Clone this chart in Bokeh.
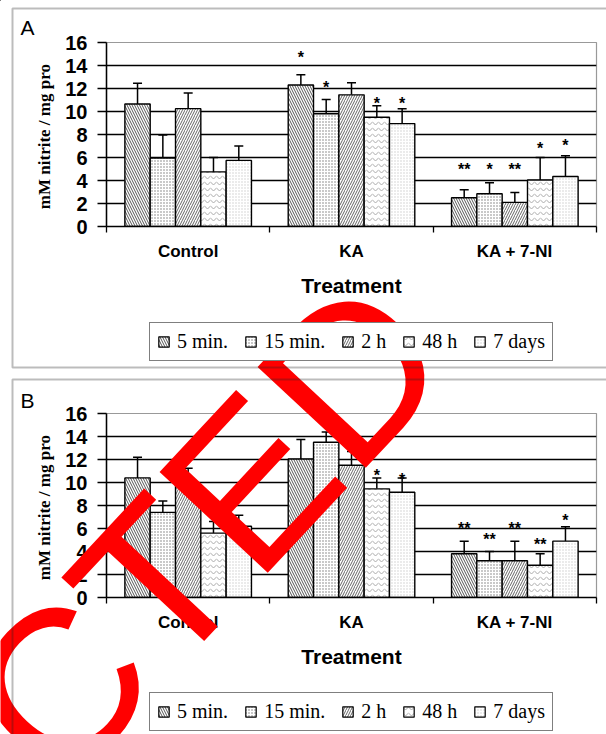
from bokeh.plotting import figure
from bokeh.models import (Range1d, FixedTicker, ColumnDataSource, Whisker, TeeHead,
                          Legend, LegendItem, BoxAnnotation)
from bokeh.layouts import column
from bokeh.embed import file_html
from bokeh.resources import INLINE
from bokeh.core.properties import value

# ---------------- data ----------------
treatments = ["Control", "KA", "KA + 7-NI"]
series = ["5 min.", "15 min.", "2 h", "48 h", "7 days"]
y_ticks = [0, 2, 4, 6, 8, 10, 12, 14, 16]
y_label = "mM nitrite /  mg pro"
x_label = "Treatment"
panel_letters = ["A", "B"]
watermark = "CTED"

# Panel A : bar height, top of error bar, significance marks and their heights
a_5min = [10.65, 12.3, 2.5]
a_5min_hi = [12.45, 13.2, 3.2]
a_5min_star = ["", "*", "**"]
a_5min_star_y = [0, 15.2, 5.5]
a_15min = [5.95, 9.8, 2.85]
a_15min_hi = [7.95, 11.05, 3.8]
a_15min_star = ["", "*", "*"]
a_15min_star_y = [0, 12.6, 5.5]
a_2h = [10.25, 11.45, 2.1]
a_2h_hi = [11.6, 12.5, 2.95]
a_2h_star = ["", "", "**"]
a_2h_star_y = [0, 0, 5.5]
a_48h = [4.75, 9.5, 4.05]
a_48h_hi = [6.0, 10.5, 6.0]
a_48h_star = ["", "*", "*"]
a_48h_star_y = [0, 11.25, 7.3]
a_7d = [5.75, 8.95, 4.35]
a_7d_hi = [7.0, 10.25, 6.15]
a_7d_star = ["", "*", "*"]
a_7d_star_y = [0, 11.25, 7.6]

# Panel B
b_5min = [10.4, 12.05, 3.8]
b_5min_hi = [12.2, 13.75, 4.9]
b_5min_star = ["", "", "**"]
b_5min_star_y = [0, 0, 6.5]
b_15min = [7.4, 13.5, 3.2]
b_15min_hi = [8.4, 14.4, 4.0]
b_15min_star = ["", "*", "**"]
b_15min_star_y = [0, 15.45, 5.55]
b_2h = [9.85, 11.5, 3.2]
b_2h_hi = [11.25, 12.7, 4.9]
b_2h_star = ["", "*", "**"]
b_2h_star_y = [0, 14.1, 6.5]
b_48h = [5.6, 9.45, 2.8]
b_48h_hi = [6.6, 10.4, 3.8]
b_48h_star = ["", "*", "**"]
b_48h_star_y = [0, 11.1, 5.15]
b_7d = [6.2, 9.15, 4.9]
b_7d_hi = [7.15, 10.4, 6.15]
b_7d_star = ["", "*", "*"]
b_7d_star_y = [0, 10.8, 7.25]

panel_a = dict(
    means=[a_5min, a_15min, a_2h, a_48h, a_7d],
    highs=[a_5min_hi, a_15min_hi, a_2h_hi, a_48h_hi, a_7d_hi],
    stars=[a_5min_star, a_15min_star, a_2h_star, a_48h_star, a_7d_star],
    star_ys=[a_5min_star_y, a_15min_star_y, a_2h_star_y, a_48h_star_y, a_7d_star_y],
)
panel_b = dict(
    means=[b_5min, b_15min, b_2h, b_48h, b_7d],
    highs=[b_5min_hi, b_15min_hi, b_2h_hi, b_48h_hi, b_7d_hi],
    stars=[b_5min_star, b_15min_star, b_2h_star, b_48h_star, b_7d_star],
    star_ys=[b_5min_star_y, b_15min_star_y, b_2h_star_y, b_48h_star_y, b_7d_star_y],
)

# ---------------- styles / layout ----------------
HATCH = [
    dict(hatch_pattern="left_diagonal_line", hatch_color="#555555", hatch_scale=5, hatch_weight=1),
    dict(hatch_pattern="dot", hatch_color="#777777", hatch_scale=3, hatch_weight=1),
    dict(hatch_pattern="right_diagonal_line", hatch_color="#666666", hatch_scale=5, hatch_weight=1),
    dict(hatch_pattern="horizontal_wave", hatch_color="#aaaaaa", hatch_scale=6, hatch_weight=1),
    dict(hatch_pattern="dot", hatch_color="#cccccc", hatch_scale=3, hatch_weight=1),
]
W, H = 606, 734
HA, HB = 371, 363
FL, FR, FT, FB = 106, 596, 42, 226
BAR_W = 0.155
SANS = "Liberation Sans"
SERIF = "Liberation Serif"


def make_panel(data, height):
    n = len(series)
    p = figure(width=W, height=height, output_backend="svg", toolbar_location=None,
               x_range=Range1d(-0.5, len(treatments) - 0.5),
               y_range=Range1d(y_ticks[0], y_ticks[-1]),
               min_border_left=FL, min_border_right=W - FR,
               min_border_top=FT, min_border_bottom=height - FB)
    p.background_fill_color = "white"
    p.border_fill_color = "white"
    p.outline_line_color = "#999999"
    p.outline_line_width = 1.2

    p.xgrid.visible = False
    p.ygrid.ticker = FixedTicker(ticks=y_ticks[1:-1])
    p.ygrid.grid_line_color = "black"
    p.ygrid.grid_line_width = 1.3

    ya = p.yaxis[0]
    ya.ticker = FixedTicker(ticks=y_ticks, minor_ticks=[])
    ya.axis_line_color = "black"
    ya.axis_line_width = 1.5
    ya.major_tick_out = 9
    ya.major_tick_in = 0
    ya.major_tick_line_color = "black"
    ya.major_tick_line_width = 1.3
    ya.major_label_standoff = 10
    ya.major_label_text_font = SANS
    ya.major_label_text_font_style = "bold"
    ya.major_label_text_font_size = "20px"
    ya.major_label_text_color = "black"
    ya.axis_label = y_label
    ya.axis_label_text_font = SERIF
    ya.axis_label_text_font_style = "bold"
    ya.axis_label_text_font_size = "17px"
    ya.axis_label_text_color = "black"
    ya.axis_label_standoff = 8

    xa = p.xaxis[0]
    centres = list(range(len(treatments)))
    bounds = [c - 0.5 for c in centres] + [centres[-1] + 0.5]
    xa.ticker = FixedTicker(ticks=centres, minor_ticks=bounds)
    xa.major_label_overrides = {c: t for c, t in zip(centres, treatments)}
    xa.axis_line_color = "black"
    xa.axis_line_width = 1.5
    xa.major_tick_out = 0
    xa.major_tick_in = 0
    xa.minor_tick_out = 6
    xa.minor_tick_in = 0
    xa.minor_tick_line_color = "black"
    xa.minor_tick_line_width = 1.3
    xa.major_label_standoff = 9
    xa.major_label_text_font = SANS
    xa.major_label_text_font_style = "bold"
    xa.major_label_text_font_size = "17px"
    xa.major_label_text_color = "black"
    xa.axis_label = x_label
    xa.axis_label_text_font = SANS
    xa.axis_label_text_font_style = "bold"
    xa.axis_label_text_font_size = "21px"
    xa.axis_label_text_color = "black"
    xa.axis_label_standoff = 10

    for j in range(n):
        xs = [c + (j - (n - 1) / 2) * BAR_W for c in centres]
        src = ColumnDataSource(dict(x=xs, top=data["means"][j], hi=data["highs"][j],
                                    star=data["stars"][j], sy=data["star_ys"][j]))
        p.vbar(x="x", top="top", bottom=0, width=BAR_W, source=src,
               fill_color="white", line_color="black", line_width=1.4, **HATCH[j])
        p.add_layout(Whisker(source=src, base="x", lower="top", upper="hi", dimension="height",
                             line_color="black", line_width=1.5,
                             upper_head=TeeHead(size=9, line_color="black", line_width=1.5),
                             lower_head=None))
        p.text(x="x", y="sy", text="star", source=src, text_font=value(SANS),
               text_font_style="bold", text_font_size="16px", text_color="black",
               text_align="center", text_baseline="alphabetic", y_offset=6)
    return p


pa = make_panel(panel_a, HA)
pb = make_panel(panel_b, HB)

# ---- transparent overlay (page pixels) for frames, letters, legends and the red stamp ----
ov = figure(width=W, height=H, output_backend="svg", toolbar_location=None,
            x_range=Range1d(0, W), y_range=Range1d(H, 0),
            x_axis_location=None, y_axis_location=None,
            min_border=0, frame_align=False, margin=(-H, 0, 0, 0))
ov.grid.visible = False
ov.background_fill_color = None
ov.border_fill_color = None
ov.outline_line_color = None

# panel frames
ov.add_layout(BoxAnnotation(left=12, right=W + 20, top=8, bottom=367, fill_color=None,
                            fill_alpha=0, line_color="#222222", line_width=2))
ov.add_layout(BoxAnnotation(left=12, right=W + 20, top=379, bottom=H + 20, fill_color=None,
                            fill_alpha=0, line_color="#222222", line_width=2))
# panel letters
ov.text(x=[20, 20], y=[15, 388], text=panel_letters, text_font=value(SANS),
        text_font_size="21px", text_color="black", text_baseline="top", text_align="left")

# legends: proxy glyphs (placed outside the view) carry the same styles as the bars
proxies = []
for j in range(len(series)):
    proxies.append(ov.vbar(x=[-50], top=[0], width=1, fill_color="white", line_color="black",
                           line_width=1.2, **HATCH[j]))
for loc in [(149, H - 361), (149, H - 731)]:
    lg = Legend(items=[LegendItem(label=series[j], renderers=[proxies[j]]) for j in range(len(series))],
                orientation="horizontal", location=loc,
                glyph_width=13, glyph_height=13, label_standoff=7, spacing=16,
                padding=7, label_height=22, margin=0,
                label_text_font=SERIF, label_text_font_size="20px", label_text_color="black",
                border_line_color="black", border_line_width=1.5,
                background_fill_color="white", background_fill_alpha=1)
    ov.add_layout(lg)

# red stamp
ov.text(x=[205], y=[530], text=[watermark], angle=47, angle_units="deg",
        text_font=value(SANS), text_font_size="215px", text_color="#ff0000",
        text_align="center", text_baseline="alphabetic")

layout = column(pa, pb, ov, spacing=0)
open("out.html", "w").write(file_html(layout, INLINE))
